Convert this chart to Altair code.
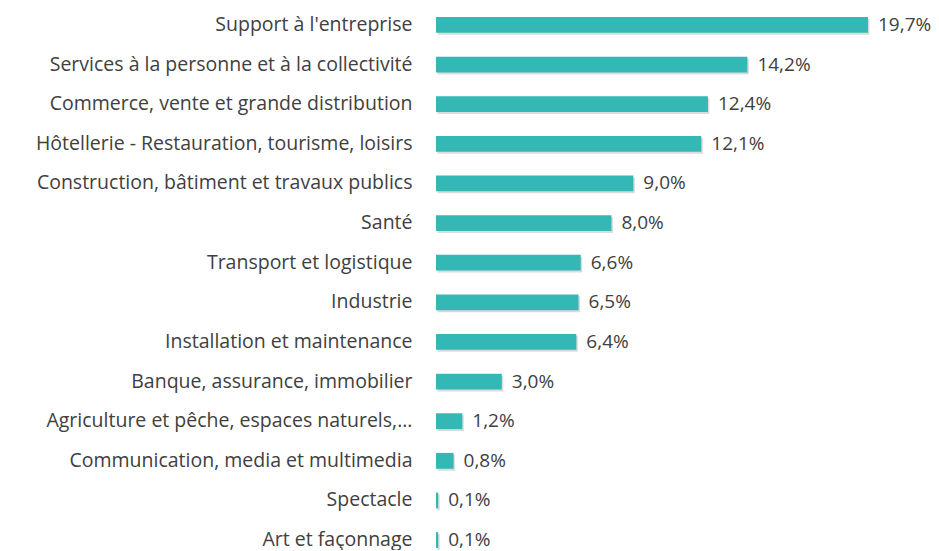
import altair as alt
import pandas as pd

categories = [
    "Support à l'entreprise",
    "Services à la personne et à la collectivité",
    "Commerce, vente et grande distribution",
    "Hôtellerie - Restauration, tourisme, loisirs",
    "Construction, bâtiment et travaux publics",
    "Santé",
    "Transport et logistique",
    "Industrie",
    "Installation et maintenance",
    "Banque, assurance, immobilier",
    "Agriculture et pêche, espaces naturels,...",
    "Communication, media et multimedia",
    "Spectacle",
    "Art et façonnage",
]
values = [19.7, 14.2, 12.4, 12.1, 9.0, 8.0, 6.6, 6.5, 6.4, 3.0, 1.2, 0.8, 0.1, 0.1]

df = pd.DataFrame({"cat": categories, "val": values})
df["label"] = [f"{v:.1f}%".replace(".", ",") for v in values]

FONT = "Open Sans"
TEXT = "#404040"
TEAL = "#33B8B5"

x = alt.X("val:Q", scale=alt.Scale(domain=[0, 19.7], nice=False, zero=True), axis=None)
y = alt.Y(
    "cat:N",
    sort=None,
    scale=alt.Scale(paddingInner=0.6, paddingOuter=0),
    axis=alt.Axis(
        title=None, domain=False, ticks=False, labelPadding=24, grid=False,
        labelFont=FONT, labelFontSize=19.5, labelColor=TEXT, labelLimit=430,
    ),
)

base = alt.Chart(df)
shadow = base.mark_bar(color="#000000", opacity=0.14, xOffset=1.5, yOffset=2).encode(x=x, y=y)
bars = base.mark_bar(color=TEAL).encode(x=x, y=y)
labels = base.mark_text(
    align="left", baseline="middle", dx=10, font=FONT, fontSize=19, color=TEXT
).encode(x=x, y=y, text="label:N")

chart = (
    alt.layer(shadow, bars, labels)
    .properties(
        width=432,
        height=531,
        autosize=alt.AutoSizeParams(type="none"),
        padding={"left": 428, "top": 9, "right": 63, "bottom": 2},
        view=alt.ViewBackground(strokeWidth=0, strokeOpacity=0, fill="white"),
    )
    .configure_view(strokeWidth=0, strokeOpacity=0)
    .configure(background="white")
)

chart.save("out.html", embed_options={"renderer": "svg", "actions": False})
